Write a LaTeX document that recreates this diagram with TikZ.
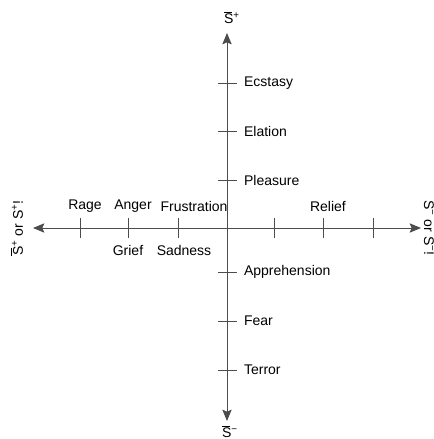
\documentclass[tikz,border=0pt]{standalone}
\usepackage{fontspec}
\setmainfont{Liberation Sans}
\usetikzlibrary{arrows.meta}
\newcommand\SBar{\leavevmode\setbox0\hbox{S}\rlap{\raisebox{1.15\ht0}{\rule{0.8\wd0}{0.5pt}}}\box0}
\begin{document}
\begin{tikzpicture}[x=0.75pt,y=-0.75pt,
    axis/.style={draw=black!70,line width=0.7pt,{Stealth[length=8.5pt,width=7pt,inset=1.5pt]}-{Stealth[length=8.5pt,width=7pt,inset=1.5pt]}},
    tick/.style={draw=black!70,line width=0.6pt},
    lbl/.style={font=\fontsize{10.5}{12}\selectfont,inner sep=0pt}]
  \useasboundingbox (0,0) rectangle (433,439);
  % axes
  \coordinate (L) at (33,228);
  \coordinate (R) at (421,228);
  \coordinate (T) at (227,33);
  \coordinate (B) at (227,421);
  \draw[axis] (L) -- (R);
  \draw[axis] (B) -- (T);
  \node[lbl] (Stop) at (232,18) {\SBar\textsuperscript{+}};
  \node[lbl] (Sbot) at (230,432) {\SBar\textsuperscript{−}};
  \node[lbl,rotate=90] (Sleft) at (17,228) {\SBar\textsuperscript{+} or S\textsuperscript{+}!};
  \node[lbl,rotate=-90] (Sright) at (430,228) {\SBar\textsuperscript{−} or S\textsuperscript{−}!};
  % ticks on the horizontal axis
  \foreach \x in {80,128,178,274,323,373}
    \draw[tick] (\x,218) -- (\x,238);
  \node[lbl] (rage) at (85,206) {Rage};
  \node[lbl] (anger) at (133,206) {Anger};
  \node[lbl] (frus) at (194,206) {Frustration};
  \node[lbl] (relief) at (328,206) {Relief};
  \node[lbl] (grief) at (128,250) {Grief};
  \node[lbl] (sad) at (184,250) {Sadness};
  % ticks on the vertical axis
  \foreach \y/\n in {83/Ecstasy,131/Elation,180/Pleasure,272/Apprehension,321/Fear,370/Terror}
    \draw[tick] (218,\y) -- (237,\y) node[lbl,right=5pt] (\n) {\n};
\end{tikzpicture}
\end{document}
